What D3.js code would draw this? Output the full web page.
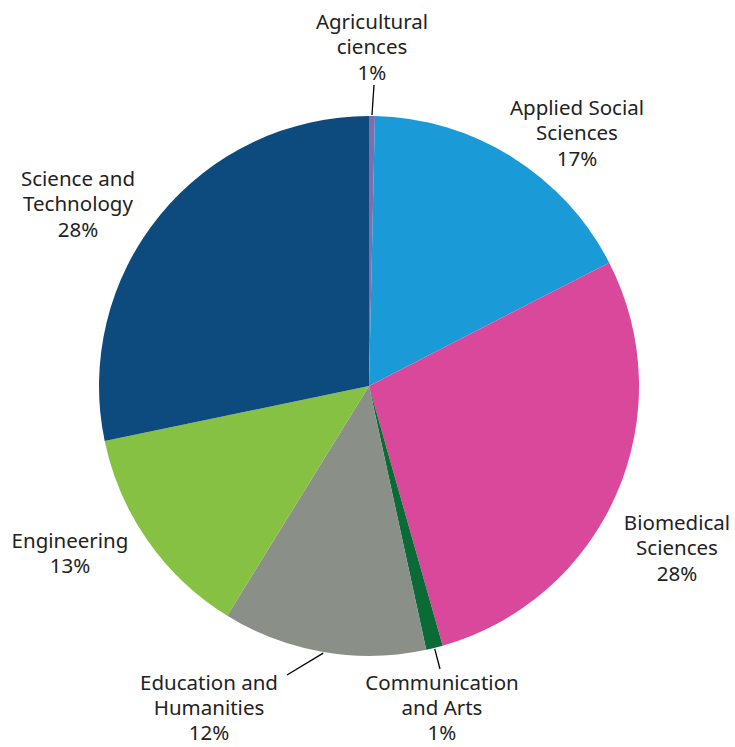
<!DOCTYPE html>
<html><head><meta charset="utf-8">
<script src="https://cdnjs.cloudflare.com/ajax/libs/d3/7.8.5/d3.min.js"></script>
<style>body{margin:0;background:#fff}</style>
</head><body>
<svg id="c" width="735" height="747"></svg>
<script>
const categories = ["Agricultural ciences","Applied Social Sciences","Biomedical Sciences","Communication and Arts","Education and Humanities","Engineering","Science and Technology"];
const values = [0.35, 17.1, 28.15, 1.0, 12.2, 12.93, 28.27];
const pctLabels = ["1%","17%","28%","1%","12%","13%","28%"];
const labelLines = [["Agricultural","ciences","1%"],["Applied Social","Sciences","17%"],["Biomedical","Sciences","28%"],["Communication","and Arts","1%"],["Education and","Humanities","12%"],["Engineering","13%"],["Science and","Technology","28%"]];
const colors = ["#7f6daf","#1a9bd7","#d9489b","#0b6b36","#8a8f87","#86c144","#0d4a7e"];

const svg = d3.select("#c");
const cx = 369, cy = 386, R = 270;
const g = svg.append("g").attr("transform",`translate(${cx},${cy})`);
const pie = d3.pie().sort(null).value(d=>d)(values);
const arc = d3.arc().innerRadius(0).outerRadius(R);
g.selectAll("path").data(pie).enter().append("path").attr("d",arc).attr("fill",(d,i)=>colors[i]);

// label anchor positions (text centre x, first baseline y)
const labelPos = [[372,29],[577,115],[677,530],[442,689.5],[209,689.5],[70,548],[78,186]];
const lh = 25.3;
labelLines.forEach((lines,i)=>{
  const t = svg.append("text").attr("text-anchor","middle").attr("font-family","Noto Sans, sans-serif").attr("font-size",20.5).attr("fill","#222");
  lines.forEach((l,j)=>t.append("tspan").attr("x",labelPos[i][0]).attr("y",labelPos[i][1]+j*lh).text(l));
});
// leader lines: from slice edge (mid-angle) to a point near the label
const leaders = [[0, 2, 59],[3, 440, 669],[4, 287, 675]];
leaders.forEach(([i,x1,y1])=>{
  const a = (pie[i].startAngle+pie[i].endAngle)/2;
  const p0 = [cx+Math.sin(a)*(R+1), cy-Math.cos(a)*(R+1)];
  const p1 = i===0 ? [p0[0]+x1, p0[1]-y1+29] : [x1,y1];
  svg.append("line").attr("x1",p0[0]).attr("y1",p0[1]).attr("x2",p1[0]).attr("y2",p1[1]).attr("stroke","#000").attr("stroke-width",1.3);
});
</script>
</body></html>
